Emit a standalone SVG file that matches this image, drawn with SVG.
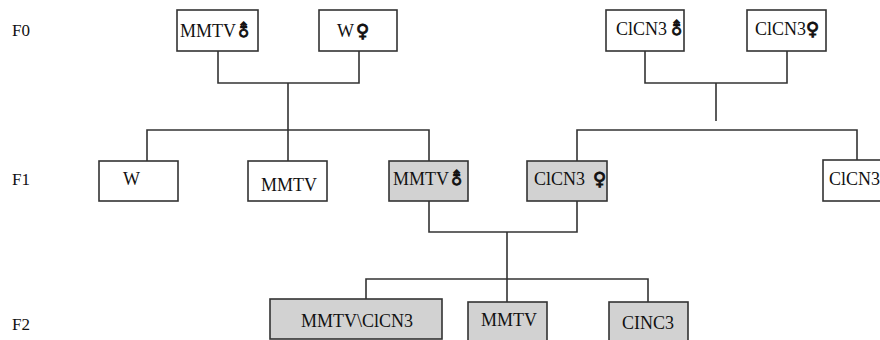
<svg xmlns="http://www.w3.org/2000/svg" width="880" height="340" viewBox="0 0 880 340">
<style>
.bx{fill:#fff;stroke:#333;stroke-width:1.6}
.g{fill:#d2d2d2}
.t{font-family:"Liberation Serif","Times New Roman",serif;font-size:18px;fill:#111}
.lb{font-family:"Liberation Serif","Times New Roman",serif;font-size:17px;fill:#111}
.s{font-family:"DejaVu Sans",sans-serif;font-size:18px;stroke:#111;stroke-width:0.9}
.ln{fill:none;stroke:#333;stroke-width:1.6}
</style>
<rect width="880" height="340" fill="#fff"/>
<g id="labels">
<text class="lb" x="12" y="36">F0</text>
<text class="lb" x="12" y="185">F1</text>
<text class="lb" x="12" y="330">F2</text>
</g>
<g id="connectors">
<path class="ln" d="M218,51 V83 H359 V51 M288,83 V161"/>
<path class="ln" d="M147,161 V130 H429 V161"/>
<path class="ln" d="M645,51 V83 H787 V51 M716,83 V121"/>
<path class="ln" d="M577,161 V130 H857 V160"/>
<path class="ln" d="M429,201 V232 H577 V201 M507,232 V302"/>
<path class="ln" d="M366,299 V279 H648 V302"/>
</g>
<g id="f0-mmtv-male"><rect class="bx" x="177" y="10" width="81" height="41"/><text class="t" x="180" y="37">MMTV<tspan class="s">⚨</tspan></text></g>
<g id="f0-w-female"><rect class="bx" x="319" y="10" width="78" height="41"/><text class="t" x="337" y="37">W<tspan class="s" dx="2">♀</tspan></text></g>
<g id="f0-clcn3-male"><rect class="bx" x="606" y="10" width="78" height="41"/><text class="t" x="616" y="35">ClCN3<tspan class="s" dx="2">⚨</tspan></text></g>
<g id="f0-clcn3-female"><rect class="bx" x="747" y="10" width="79" height="41"/><text class="t" x="755" y="35">ClCN3<tspan class="s">♀</tspan></text></g>
<g id="f1-w"><rect class="bx" x="99" y="161" width="79" height="40"/><text class="t" x="123" y="185">W</text></g>
<g id="f1-mmtv"><rect class="bx" x="248" y="161" width="79" height="40"/><text class="t" x="261" y="191">MMTV</text></g>
<g id="f1-mmtv-male"><rect class="bx g" x="389" y="161" width="79" height="40"/><text class="t" x="393" y="185">MMTV<tspan class="s">⚨</tspan></text></g>
<g id="f1-clcn3-female"><rect class="bx g" x="527" y="161" width="80" height="40"/><text class="t" x="534" y="185">ClCN3<tspan class="s" dx="8">♀</tspan></text></g>
<g id="f1-clcn3"><rect class="bx" x="823" y="160" width="80" height="41"/><text class="t" x="829" y="185">ClCN3</text></g>
<g id="f2-mmtv-clcn3"><rect class="bx g" x="270" y="299" width="172" height="40"/><text class="t" x="301" y="327">MMTV\ClCN3</text></g>
<g id="f2-mmtv"><rect class="bx g" x="468" y="302" width="79" height="40"/><text class="t" x="481" y="326">MMTV</text></g>
<g id="f2-cinc3"><rect class="bx g" x="609" y="302" width="79" height="40"/><text class="t" x="622" y="329">CINC3</text></g>
</svg>
